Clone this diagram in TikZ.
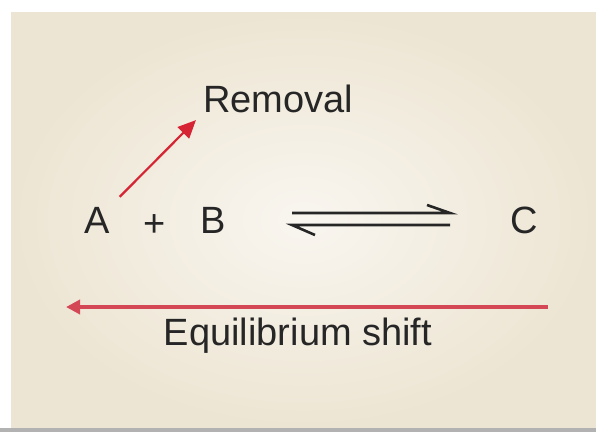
\documentclass[tikz,border=0pt]{standalone}
\usepackage{fontspec}
\setmainfont{Liberation Sans}
\usetikzlibrary{arrows.meta}

\definecolor{paper}{RGB}{237,229,211}
\definecolor{paperlight}{RGB}{249,246,240}
\definecolor{shiftred}{RGB}{212,72,86}
\definecolor{removered}{RGB}{214,36,52}

\begin{document}
\begin{tikzpicture}[x=1pt,y=-1pt,
    species/.style={inner sep=0pt,font=\fontsize{38}{40}\selectfont,text=black!85},
    label/.style={inner sep=0pt,font=\fontsize{38}{40}\selectfont,text=black!85},
    removearrow/.style={removered,line width=2.2pt,-{Triangle[length=18pt,width=16pt]}},
    shiftarrow/.style={shiftred,line width=3.5pt,-{Triangle[length=14pt,width=14pt]}},
    harpoon/.style={black!85,line width=2.6pt,line cap=butt}]

    % Hintergrund
    \fill[white] (0,0) rectangle (596,432);
    \shade[inner color=paperlight,outer color=paper] (11,12) rectangle (596,428);
    \fill[black!30] (0,428) rectangle (596,432);
    \useasboundingbox (0,0) rectangle (596,432);

    % Stoffe
    \node[species] (A) at (97,220) {A};
    \node[species] (plus) at (155,226) {+};
    \node[species] (B) at (213,220) {B};
    \node[species] (C) at (524,220) {C};

    % Gleichgewichtspfeil
    \coordinate (eqL) at (292,219);
    \coordinate (eqR) at (450,219);
    \draw[harpoon] ([shift={(0,-6)}]eqL) -- ([shift={(0,-6)}]eqR) -- ++(-23,-8);
    \draw[harpoon] ([shift={(0,6)}]eqR) -- ([shift={(0,6)}]eqL) -- ++(23,10);

    % Entfernung
    \node[label,anchor=south west] (removal) at (203,113) {Removal};
    \draw[removearrow,shorten <=14pt,shorten >=10pt] (A.north east) -- (removal.south west);

    % Verschiebung
    \node[label] (shift) at (298,336) {Equilibrium shift};
    \coordinate (shiftR) at (548,307);
    \coordinate (shiftL) at (66,307);
    \draw[shiftarrow] (shiftR) -- (shiftL);

\end{tikzpicture}
\end{document}
